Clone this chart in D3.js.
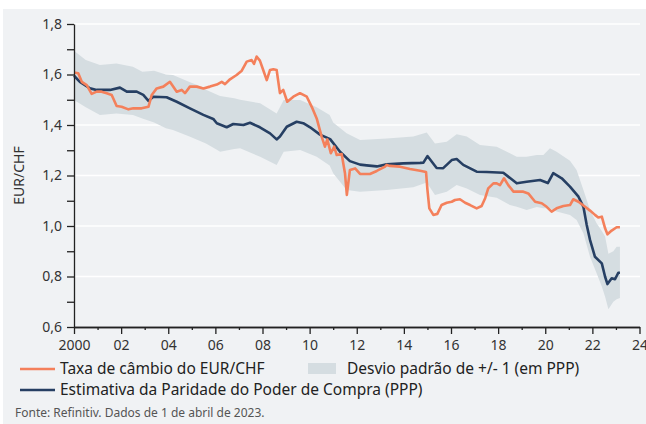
<!DOCTYPE html>
<html>
<head>
<meta charset="utf-8">
<script src="https://cdn.jsdelivr.net/npm/d3@7"></script>
<style>
    html, body { margin: 0; padding: 0; background: #ffffff; }
    svg { display: block; font-family: "Noto Sans", sans-serif; }
</style>
</head>
<body>
<svg id="chart" width="646" height="424"></svg>
<script>

//*************************************************//
// Chart data
//*************************************************//

// EUR/CHF exchange rate
var fxYears = [2000.0, 2000.18, 2000.33, 2000.54, 2000.75, 2000.96, 2001.17, 2001.39, 2001.6, 2001.81,
    2002.02, 2002.31, 2002.52, 2002.87, 2003.16, 2003.3, 2003.51, 2003.79, 2004.07, 2004.36,
    2004.57, 2004.71, 2004.92, 2005.21, 2005.49, 2005.77, 2006.06, 2006.27, 2006.41, 2006.62,
    2006.9, 2007.12, 2007.33, 2007.54, 2007.64, 2007.75, 2007.89, 2008.03, 2008.18, 2008.32,
    2008.46, 2008.6, 2008.74, 2008.88, 2009.05, 2009.31, 2009.59, 2009.88, 2010.09, 2010.3,
    2010.51, 2010.65, 2010.75, 2010.9, 2011.04, 2011.15, 2011.36, 2011.5, 2011.58, 2011.71,
    2011.93, 2012.14, 2012.56, 2012.85, 2013.2, 2013.27, 2013.41, 2013.84, 2014.26, 2014.69,
    2014.94, 2015.0, 2015.08, 2015.25, 2015.42, 2015.6, 2015.82, 2016.03, 2016.17, 2016.38,
    2016.6, 2016.81, 2017.09, 2017.3, 2017.45, 2017.58, 2017.8, 2017.94, 2018.08, 2018.25,
    2018.43, 2018.65, 2018.79, 2019.07, 2019.28, 2019.57, 2019.85, 2020.06, 2020.27, 2020.48,
    2020.77, 2021.05, 2021.19, 2021.41, 2021.69, 2021.9, 2022.11, 2022.25, 2022.4, 2022.54,
    2022.64, 2022.82, 2023.03, 2023.17];
var fxValues = [1.608, 1.605, 1.571, 1.558, 1.523, 1.532, 1.532, 1.526, 1.519, 1.475,
    1.472, 1.462, 1.466, 1.466, 1.472, 1.519, 1.545, 1.552, 1.571, 1.532,
    1.539, 1.526, 1.552, 1.552, 1.545, 1.552, 1.560, 1.571, 1.562, 1.581,
    1.598, 1.615, 1.651, 1.657, 1.642, 1.671, 1.655, 1.618, 1.578, 1.618,
    1.621, 1.618, 1.526, 1.539, 1.492, 1.512, 1.526, 1.512, 1.472, 1.426,
    1.354, 1.314, 1.343, 1.288, 1.314, 1.281, 1.285, 1.209, 1.123, 1.222,
    1.228, 1.206, 1.206, 1.218, 1.235, 1.242, 1.238, 1.235, 1.226, 1.219,
    1.214, 1.143, 1.070, 1.044, 1.048, 1.083, 1.092, 1.096, 1.103, 1.106,
    1.092, 1.083, 1.070, 1.079, 1.110, 1.149, 1.169, 1.169, 1.162, 1.189,
    1.162, 1.136, 1.136, 1.136, 1.129, 1.096, 1.090, 1.076, 1.057, 1.070,
    1.079, 1.083, 1.106, 1.096, 1.076, 1.061, 1.044, 1.034, 1.037, 0.991,
    0.967, 0.982, 0.995, 0.995];

// Purchasing power parity estimate
var pppYears = [2000.0, 2000.25, 2000.68, 2000.96, 2001.53, 2001.95, 2002.24, 2002.66, 2002.94, 2003.16,
    2003.37, 2003.93, 2004.36, 2004.92, 2005.49, 2005.91, 2006.06, 2006.48, 2006.76, 2007.19,
    2007.47, 2007.89, 2008.32, 2008.6, 2008.74, 2009.03, 2009.45, 2009.73, 2010.02, 2010.44,
    2010.87, 2011.29, 2011.71, 2012.14, 2012.42, 2012.85, 2013.27, 2013.98, 2014.69, 2014.83,
    2015.0, 2015.39, 2015.67, 2016.03, 2016.24, 2016.52, 2017.09, 2017.52, 2018.22, 2018.79,
    2019.21, 2019.78, 2020.11, 2020.34, 2020.7, 2021.05, 2021.41, 2021.62, 2021.76, 2021.9,
    2022.11, 2022.4, 2022.54, 2022.64, 2022.82, 2022.96, 2023.1, 2023.17];
var pppValues = [1.595, 1.571, 1.545, 1.539, 1.539, 1.548, 1.532, 1.532, 1.519, 1.496,
    1.512, 1.510, 1.492, 1.466, 1.440, 1.424, 1.407, 1.391, 1.404, 1.400,
    1.409, 1.391, 1.367, 1.343, 1.354, 1.393, 1.413, 1.407, 1.391, 1.362,
    1.344, 1.294, 1.257, 1.243, 1.240, 1.236, 1.244, 1.248, 1.250, 1.251,
    1.277, 1.230, 1.229, 1.261, 1.265, 1.242, 1.215, 1.214, 1.211, 1.169,
    1.175, 1.182, 1.170, 1.209, 1.189, 1.156, 1.116, 1.076, 1.004, 0.945,
    0.878, 0.852, 0.799, 0.770, 0.793, 0.789, 0.815, 0.815];

// +/- 1 standard deviation band around PPP
var bandYears = [2000.0, 2000.5, 2001.1, 2001.8, 2002.5, 2002.9, 2003.4, 2003.9, 2004.2, 2004.9,
    2005.4, 2005.6, 2006.1, 2006.2, 2006.8, 2007.05, 2007.9, 2008.6, 2008.9, 2009.6,
    2010.3, 2010.85, 2011.0, 2011.57, 2012.14, 2013.27, 2014.4, 2014.97, 2015.32, 2015.82,
    2016.24, 2016.67, 2017.23, 2017.94, 2018.5, 2018.79, 2019.21, 2019.64, 2019.92, 2020.2,
    2020.48, 2021.05, 2021.33, 2021.62, 2021.9, 2022.18, 2022.4, 2022.54, 2022.68, 2022.89,
    2023.03, 2023.17];
var bandUpper = [1.694, 1.657, 1.638, 1.644, 1.631, 1.611, 1.615, 1.600, 1.598, 1.570,
    1.552, 1.540, 1.519, 1.515, 1.506, 1.500, 1.486, 1.446, 1.499, 1.499,
    1.470, 1.440, 1.410, 1.367, 1.341, 1.347, 1.354, 1.370, 1.327, 1.334,
    1.363, 1.354, 1.321, 1.314, 1.288, 1.274, 1.274, 1.281, 1.281, 1.308,
    1.294, 1.258, 1.222, 1.143, 1.063, 1.011, 0.980, 0.958, 0.890, 0.900,
    0.918, 0.918];
var bandLower = [1.499, 1.470, 1.440, 1.446, 1.440, 1.426, 1.410, 1.387, 1.380, 1.354,
    1.335, 1.327, 1.300, 1.294, 1.305, 1.308, 1.274, 1.242, 1.294, 1.301,
    1.274, 1.240, 1.209, 1.143, 1.136, 1.143, 1.153, 1.172, 1.123, 1.136,
    1.162, 1.149, 1.123, 1.112, 1.083, 1.076, 1.063, 1.075, 1.070, 1.070,
    1.057, 1.044, 1.024, 0.971, 0.878, 0.813, 0.760, 0.720, 0.670, 0.700,
    0.710, 0.715];

// Axis ticks
var yTicks = [0.6, 0.7, 0.8, 0.9, 1.0, 1.1, 1.2, 1.3, 1.4, 1.5, 1.6, 1.7, 1.8];
var yGridTicks = [0.8, 1.0, 1.2, 1.4, 1.6, 1.8];
var xMajorTicks = [2000, 2002, 2004, 2006, 2008, 2010, 2012, 2014, 2016, 2018, 2020, 2022, 2024];
var xTickLabels = ["2000", "02", "04", "06", "08", "10", "12", "14", "16", "18", "20", "22", "24"];
var xMinorTicks = [2001, 2003, 2005, 2007, 2009, 2011, 2013, 2015, 2017, 2019, 2021, 2023];

// Legend labels
var legendFx = "Taxa de câmbio do EUR/CHF";
var legendPpp = "Estimativa da Paridade do Poder de Compra (PPP)";
var legendBand = "Desvio padrão de +/- 1 (em PPP)";
var sourceText = "Fonte: Refinitiv. Dados de 1 de abril de 2023.";


//*************************************************//
// Draw chart
//*************************************************//

var svg = d3.select('#chart');

var colorFx = "#f4805b";
var colorPpp = "#263f63";
var colorBand = "#d5dde1";
var colorAxis = "#222222";

// Panel background
svg.append('rect')
    .attr('x', 3)
    .attr('y', 9)
    .attr('width', 643)
    .attr('height', 415)
    .attr('fill', '#f0f2f4');

// Plot area
var margin = {top: 24, left: 74};
var plotRight = 639.5;
var plotBottom = 327;

var x = d3.scaleLinear().domain([2000, 2024]).range([margin.left, plotRight]);
var y = d3.scaleLinear().domain([0.6, 1.8]).range([plotBottom, margin.top]);

/*****************************/
// Gridlines
/*****************************/
svg.append('g')
    .selectAll('line')
    .data(yGridTicks)
    .join('line')
    .attr('x1', margin.left)
    .attr('x2', 640)
    .attr('y1', function(d) { return y(d); })
    .attr('y2', function(d) { return y(d); })
    .attr('stroke', '#ffffff')
    .attr('stroke-width', 1.5);

/*****************************/
// Band and lines
/*****************************/
var bandData = bandYears.map(function(d, i) {
    return {year: d, hi: bandUpper[i], lo: bandLower[i]};
});

var area = d3.area()
    .x(function(d) { return x(d.year); })
    .y0(function(d) { return y(d.lo); })
    .y1(function(d) { return y(d.hi); });

svg.append('path')
    .datum(bandData)
    .attr('d', area)
    .attr('fill', colorBand);

var line = d3.line()
    .x(function(d) { return x(d[0]); })
    .y(function(d) { return y(d[1]); });

svg.append('path')
    .datum(d3.zip(pppYears, pppValues))
    .attr('d', line)
    .attr('fill', 'none')
    .attr('stroke', colorPpp)
    .attr('stroke-width', 2.6)
    .attr('stroke-linejoin', 'round');

svg.append('path')
    .datum(d3.zip(fxYears, fxValues))
    .attr('d', line)
    .attr('fill', 'none')
    .attr('stroke', colorFx)
    .attr('stroke-width', 2.6)
    .attr('stroke-linejoin', 'round');

/*****************************/
// Axes
/*****************************/
var yAxis = svg.append('g')
    .attr('transform', 'translate(' + margin.left + ',0)')
    .call(d3.axisLeft(y)
        .tickValues(yTicks)
        .tickSize(7)
        .tickSizeOuter(0)
        .tickPadding(5)
        .tickFormat(function(d) {
            return Math.round(d * 10) % 2 === 0 ? d.toFixed(1).replace('.', ',') : '';
        }));

var xMinor = svg.append('g')
    .attr('transform', 'translate(0,' + plotBottom + ')')
    .call(d3.axisBottom(x)
        .tickValues(xMinorTicks)
        .tickSize(3)
        .tickSizeOuter(0)
        .tickFormat(''));

var xAxis = svg.append('g')
    .attr('transform', 'translate(0,' + plotBottom + ')')
    .call(d3.axisBottom(x)
        .tickValues(xMajorTicks)
        .tickSize(7)
        .tickSizeOuter(0)
        .tickPadding(6)
        .tickFormat(function(d, i) { return xTickLabels[i]; }));

[yAxis, xMinor, xAxis].forEach(function(g) {
    g.selectAll('path, line').attr('stroke', colorAxis).attr('stroke-width', 1.3);
    g.selectAll('text')
        .attr('fill', '#333333')
        .style('font-size', '14px')
        .style('font-family', '"Noto Sans", sans-serif');
});

// Y axis title
svg.append('text')
    .attr('transform', 'translate(24,' + ((margin.top + plotBottom) / 2) + ') rotate(-90)')
    .style('text-anchor', 'middle')
    .attr('fill', '#333333')
    .style('font-size', '14px')
    .text('EUR/CHF');

/*****************************/
// Legend
/*****************************/
var legend = svg.append('g').style('font-size', '15.5px').attr('fill', '#222222');

legend.append('line')
    .attr('x1', 20).attr('x2', 55)
    .attr('y1', 369).attr('y2', 369)
    .attr('stroke', colorFx)
    .attr('stroke-width', 2.6);

legend.append('text')
    .attr('x', 60).attr('y', 369).attr('dy', '0.35em')
    .text(legendFx);

legend.append('rect')
    .attr('x', 308).attr('y', 363)
    .attr('width', 28).attr('height', 11)
    .attr('fill', colorBand);

legend.append('text')
    .attr('x', 347).attr('y', 369).attr('dy', '0.35em')
    .text(legendBand);

legend.append('line')
    .attr('x1', 20).attr('x2', 55)
    .attr('y1', 390).attr('y2', 390)
    .attr('stroke', colorPpp)
    .attr('stroke-width', 2.6);

legend.append('text')
    .attr('x', 60).attr('y', 390).attr('dy', '0.35em')
    .text(legendPpp);

// Source note
svg.append('text')
    .attr('x', 15).attr('y', 413).attr('dy', '0.35em')
    .attr('fill', '#555555')
    .style('font-size', '12px')
    .text(sourceText);

</script>
</body>
</html>
